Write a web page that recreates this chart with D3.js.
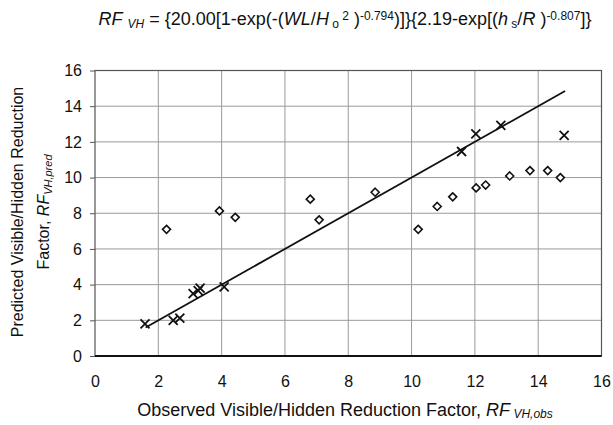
<!DOCTYPE html>
<html>
<head>
<meta charset="utf-8">
<script src="https://cdn.jsdelivr.net/npm/d3@7"></script>
<style>
  body { margin: 0; background: #fff; }
  text { font-family: "Liberation Sans", Arial, sans-serif; fill: #111; }
</style>
</head>
<body>
<svg width="613" height="425"></svg>
<script>
var width = 613,
	height = 425;

// data
var xTicks = [0, 2, 4, 6, 8, 10, 12, 14, 16];
var yTicks = [0, 2, 4, 6, 8, 10, 12, 14, 16];

// predicted values, diamonds
var diamondObs = [2.26, 3.93, 4.43, 6.8, 7.08, 8.85, 10.21, 10.81, 11.3, 12.04, 12.34, 13.1, 13.74, 14.3, 14.7];
var diamondPred = [7.1, 8.13, 7.77, 8.79, 7.63, 9.18, 7.1, 8.38, 8.92, 9.42, 9.58, 10.09, 10.39, 10.39, 10.0];

// predicted values, crosses
var crossObs = [1.58, 2.47, 2.68, 3.1, 3.26, 3.32, 4.08, 11.58, 12.03, 12.82, 14.82];
var crossPred = [1.8, 2.0, 2.12, 3.5, 3.66, 3.8, 3.88, 11.46, 12.45, 12.92, 12.36];

// line of equality
var lineX = [1.6, 14.85];

var svg = d3.select("svg");

var x = d3.scaleLinear().domain([0, 16]).range([95, 601.5]);
var y = d3.scaleLinear().domain([0, 16]).range([356, 70.5]);

// grid
svg.append("g")
	.selectAll("line")
	.data(xTicks.slice(1, -1))
	.enter()
	.append("line")
	.attr("x1", (d) => x(d))
	.attr("x2", (d) => x(d))
	.attr("y1", y(16))
	.attr("y2", y(0))
	.style("stroke", "#9a9a9a")
	.style("stroke-width", 1);

svg.append("g")
	.selectAll("line")
	.data(yTicks.slice(1, -1))
	.enter()
	.append("line")
	.attr("x1", x(0))
	.attr("x2", x(16))
	.attr("y1", (d) => y(d))
	.attr("y2", (d) => y(d))
	.style("stroke", "#9a9a9a")
	.style("stroke-width", 1);

// plot frame
svg.append("rect")
	.attr("x", x(0))
	.attr("y", y(16))
	.attr("width", x(16) - x(0))
	.attr("height", y(0) - y(16))
	.style("fill", "none")
	.style("stroke", "#555")
	.style("stroke-width", 1.2);

svg.append("line")
	.attr("x1", x(0))
	.attr("x2", x(16))
	.attr("y1", y(0))
	.attr("y2", y(0))
	.style("stroke", "#111")
	.style("stroke-width", 2);

// axes
var xAxis = svg.append("g")
	.attr("transform", "translate(0," + y(0) + ")")
	.call(d3.axisBottom(x).tickValues(xTicks).tickSize(0).tickPadding(20));
var yAxis = svg.append("g")
	.attr("transform", "translate(" + x(0) + ",0)")
	.call(d3.axisLeft(y).tickValues(yTicks).tickSize(5).tickPadding(8));

[xAxis, yAxis].forEach((a) => {
	a.select(".domain").remove();
	a.selectAll("text")
		.style("font-size", "16px")
		.style("font-family", "Liberation Sans, Arial, sans-serif");
	a.selectAll(".tick line").style("stroke", "#555");
});
yAxis.selectAll(".tick line").attr("x1", 0).attr("x2", -5);

// 1:1 line
svg.append("line")
	.attr("x1", x(lineX[0]))
	.attr("y1", y(lineX[0]))
	.attr("x2", x(lineX[1]))
	.attr("y2", y(lineX[1]))
	.style("stroke", "#111")
	.style("stroke-width", 1.8);

// diamonds
var diamonds = diamondObs.map((d, i) => ({ x: d, y: diamondPred[i] }));
svg.append("g")
	.selectAll("path")
	.data(diamonds)
	.enter()
	.append("path")
	.attr("transform", (d) => "translate(" + x(d.x) + "," + y(d.y) + ")")
	.attr("d", "M0,-4L4,0L0,4L-4,0Z")
	.style("fill", "#fff")
	.style("stroke", "#111")
	.style("stroke-width", 1.6);

// crosses
var crosses = crossObs.map((d, i) => ({ x: d, y: crossPred[i] }));
svg.append("g")
	.selectAll("path")
	.data(crosses)
	.enter()
	.append("path")
	.attr("transform", (d) => "translate(" + x(d.x) + "," + y(d.y) + ")")
	.attr("d", "M-4.5,-4.5L4.5,4.5M-4.5,4.5L4.5,-4.5")
	.style("stroke", "#111")
	.style("stroke-width", 1.8);

// title formula
var title = svg.append("text")
	.attr("x", 345)
	.attr("y", 25)
	.attr("text-anchor", "middle")
	.style("font-size", "18px");

var parts = [
	["RF", "i", 0],
	[" ", "", 0],
	["VH", "i", 1],
	[" = {20.00[1-exp(-(", "", 0],
	["WL", "i", 0],
	["/", "", 0],
	["H", "i", 0],
	[" o", "", 1],
	[" 2", "", 2],
	[" )", "", 0],
	["-0.794", "", 2],
	[")]}{2.19-exp[(", "", 0],
	["h", "i", 0],
	[" s", "", 1],
	["/", "", 0],
	["R", "i", 0],
	[" )", "", 0],
	["-0.807", "", 2],
	["]}", "", 0]
];
parts.forEach((p) => {
	var t = title.append("tspan").text(p[0]);
	if (p[1] == "i") t.style("font-style", "italic");
	if (p[2] == 1) t.attr("baseline-shift", "-25%").style("font-size", "12px");
	if (p[2] == 2) t.attr("baseline-shift", "45%").style("font-size", "12px");
});

// x axis title
var xt = svg.append("text")
	.attr("x", 345)
	.attr("y", 416)
	.attr("text-anchor", "middle")
	.style("font-size", "18px");
xt.append("tspan").text("Observed Visible/Hidden Reduction Factor, ");
xt.append("tspan").text("RF").style("font-style", "italic");
xt.append("tspan").text(" VH,obs").style("font-style", "italic").style("font-size", "12px").attr("baseline-shift", "-20%");

// y axis title
var yt = svg.append("g").attr("transform", "translate(0,212) rotate(-90)");
yt.append("text")
	.attr("x", 0)
	.attr("y", 23)
	.attr("text-anchor", "middle")
	.style("font-size", "16px")
	.text("Predicted Visible/Hidden Reduction");
var yt2 = yt.append("text")
	.attr("x", 0)
	.attr("y", 49)
	.attr("text-anchor", "middle")
	.style("font-size", "16px");
yt2.append("tspan").text("Factor, ");
yt2.append("tspan").text("RF").style("font-style", "italic");
yt2.append("tspan").text("VH,pred").style("font-style", "italic").style("font-size", "11px").attr("baseline-shift", "-25%");
</script>
</body>
</html>
